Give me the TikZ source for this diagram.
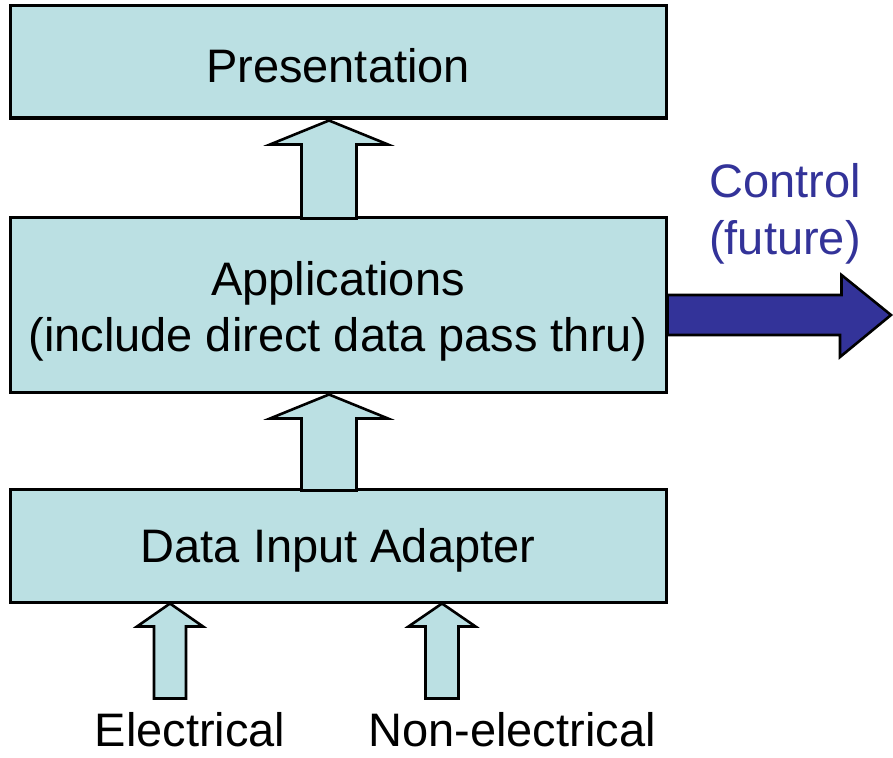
\documentclass[tikz,border=0pt]{standalone}
\usepackage{fontspec}
\setmainfont{Liberation Sans}
\usetikzlibrary{calc}
\definecolor{boxfill}{HTML}{BBE0E3}
\definecolor{ctrlblue}{HTML}{333399}
\tikzset{
  layerbox/.style={draw=black, line width=3pt, fill=boxfill, rectangle, inner sep=0pt,
    minimum width=656pt},
  blk/.style={draw=black, line width=2.6pt, fill=boxfill, line join=miter},
  ctrlarrow/.style={draw=black, line width=2.6pt, fill=ctrlblue, line join=miter},
  lbl/.style={font=\fontsize{47}{56.5}\selectfont, align=center, inner sep=0pt}
}
% up-pointing block arrow: #1 style, #2 tip, #3 head length, #4 head half width,
% #5 shaft half width, #6 total length
\newcommand\blkup[6]{%
  \draw[#1, shift={(#2)}] (0,0) -- (#4,#3) -- (#5,#3) -- (#5,#6) -- (-#5,#6)
     -- (-#5,#3) -- (-#4,#3) -- cycle;}
\begin{document}
\begin{tikzpicture}[x=1pt, y=-1pt]
  \useasboundingbox (0,0) rectangle (893,757);

  % the three layers
  \node[layerbox, minimum height=112pt] (pres) at (338,62) {};
  \node[layerbox, minimum height=175pt] (apps) at (338,304.5) {};
  \node[layerbox, minimum height=113pt] (dia) at (338,545.5) {};
  \node[lbl] (prestxt) at ($(pres.center)+(0,4)$) {Presentation};
  \node[lbl] (appstxt) at ($(apps.center)+(0,7)$)
    {Applications\\(include direct data pass thru)};
  \node[lbl] (diatxt) at ($(dia.center)+(0,5)$) {Data Input Adapter};

  % arrow tips on the box edges
  \coordinate (t1) at ($(pres.south)+(-9,1)$);
  \coordinate (t2) at ($(apps.south)+(-9,1)$);
  \coordinate (t3) at ($(dia.south)+(-168,0)$);
  \coordinate (t4) at ($(dia.south)+(104,0)$);

  % block arrows between the layers
  \blkup{blk}{t1}{24}{59}{27.5}{98}
  \blkup{blk}{t2}{24}{59}{27.5}{96}
  \blkup{blk}{t3}{23}{33}{16}{95}
  \blkup{blk}{t4}{23}{33.5}{16.5}{95}

  % inputs
  \node[lbl, anchor=base] (elec) at (190,746) {Electrical};
  \node[lbl, anchor=base] (nonelec) at (512,746) {Non-electrical};

  % control output
  \coordinate (cbase) at (apps.east |- 0,315);
  \draw[ctrlarrow] (cbase) ++(0,-20) -- ++(174,0) -- ++(0,-20) -- (891,315)
     -- (840,357) -- (840,335) -- ($(cbase)+(0,20)$) -- cycle;
  \node[lbl, text=ctrlblue] (ctrl) at (785,214) {Control\\(future)};
\end{tikzpicture}
\end{document}
